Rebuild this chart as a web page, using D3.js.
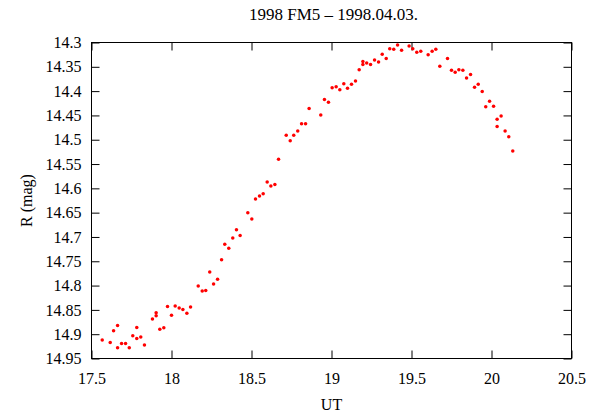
<!DOCTYPE html>
<html><head><meta charset="utf-8">
<script src="https://cdn.jsdelivr.net/npm/d3@7"></script>
<style>body{margin:0;background:#fff}svg{display:block}text{font-family:"Liberation Serif","Times New Roman",serif;fill:#000}</style>
</head><body><svg id="c" width="595" height="417"></svg>
<script>
const ut = [17.567,17.617,17.638,17.663,17.663,17.688,17.713,17.736,17.758,17.783,17.783,17.808,17.831,17.881,17.904,17.904,17.927,17.952,17.975,18.0,18.023,18.048,18.071,18.096,18.119,18.167,18.192,18.214,18.239,18.263,18.288,18.313,18.333,18.358,18.383,18.406,18.429,18.477,18.502,18.525,18.55,18.573,18.598,18.621,18.646,18.669,18.717,18.742,18.764,18.789,18.813,18.838,18.86,18.933,18.956,18.981,19.004,19.029,19.052,19.077,19.1,19.125,19.15,19.173,19.196,19.196,19.22,19.244,19.269,19.294,19.317,19.342,19.364,19.389,19.413,19.438,19.485,19.508,19.533,19.558,19.604,19.629,19.652,19.677,19.725,19.75,19.773,19.796,19.821,19.844,19.869,19.894,19.917,19.942,19.964,19.988,20.013,20.035,20.035,20.06,20.085,20.108,20.133];
const mag = [14.912,14.917,14.893,14.882,14.928,14.919,14.919,14.928,14.903,14.886,14.909,14.906,14.922,14.869,14.856,14.862,14.890,14.887,14.843,14.861,14.842,14.846,14.849,14.857,14.844,14.801,14.811,14.810,14.772,14.797,14.787,14.747,14.715,14.723,14.702,14.685,14.697,14.650,14.663,14.622,14.616,14.611,14.587,14.595,14.592,14.540,14.491,14.502,14.491,14.482,14.467,14.467,14.436,14.449,14.417,14.423,14.393,14.391,14.397,14.385,14.394,14.386,14.379,14.356,14.339,14.345,14.342,14.345,14.336,14.340,14.324,14.333,14.313,14.314,14.305,14.316,14.307,14.313,14.320,14.318,14.325,14.318,14.314,14.349,14.333,14.357,14.361,14.356,14.357,14.373,14.366,14.392,14.386,14.401,14.432,14.421,14.431,14.458,14.473,14.451,14.482,14.494,14.523];
const xTicks = [17.5,18,18.5,19,19.5,20,20.5];
const yTicks = [14.3,14.35,14.4,14.45,14.5,14.55,14.6,14.65,14.7,14.75,14.8,14.85,14.9,14.95];
const title = "1998 FM5 \u2013 1998.04.03.";
const xLabel = "UT", yLabel = "R (mag)";

const svg = d3.select("#c");
const L = 91.5, R = 571.5, T = 42.5, B = 358.5;
const x = d3.scaleLinear().domain([17.5,20.5]).range([L,R]);
const y = d3.scaleLinear().domain([14.3,14.95]).range([T,B]);
const tl = 8;
const fmt = d => String(+d.toFixed(2));

svg.append("rect").attr("x",L).attr("y",T).attr("width",R-L).attr("height",B-T)
  .attr("fill","none").attr("stroke","#000").attr("stroke-width",1);

const axB = d3.axisBottom(x).tickValues(xTicks).tickFormat(fmt).tickSizeInner(-tl).tickSizeOuter(0).tickPadding(14);
const gB = svg.append("g").attr("transform",`translate(0,${B})`).call(axB);
const gT = svg.append("g").attr("transform",`translate(0,${T})`).call(d3.axisTop(x).tickValues(xTicks).tickFormat("").tickSizeInner(-tl).tickSizeOuter(0));
const gL = svg.append("g").attr("transform",`translate(${L},0)`).call(d3.axisLeft(y).tickValues(yTicks).tickFormat(fmt).tickSizeInner(-tl).tickSizeOuter(0).tickPadding(10));
const gR = svg.append("g").attr("transform",`translate(${R},0)`).call(d3.axisRight(y).tickValues(yTicks).tickFormat("").tickSizeInner(-tl).tickSizeOuter(0));
[gB,gT,gL,gR].forEach(g=>{
  g.attr("font-family",null);
  g.select(".domain").remove();
  g.selectAll("line").attr("stroke","#000").attr("stroke-width",1);
  g.selectAll("text").attr("font-size",16).attr("fill","#000");
});

svg.append("g").selectAll("circle").data(ut.map((u,i)=>[u,mag[i]])).join("circle")
  .attr("cx",d=>x(d[0])).attr("cy",d=>y(d[1])).attr("r",1.75).attr("fill","#ff0000");

svg.append("text").attr("x",(L+R)/2+2).attr("y",20).attr("text-anchor","middle").attr("font-size",17).text(title);
svg.append("text").attr("x",(L+R)/2).attr("y",410).attr("text-anchor","middle").attr("font-size",16).text(xLabel);
svg.append("text").attr("transform",`translate(32,${(T+B)/2}) rotate(-90)`).attr("text-anchor","middle").attr("font-size",16).text(yLabel);
</script></body></html>
